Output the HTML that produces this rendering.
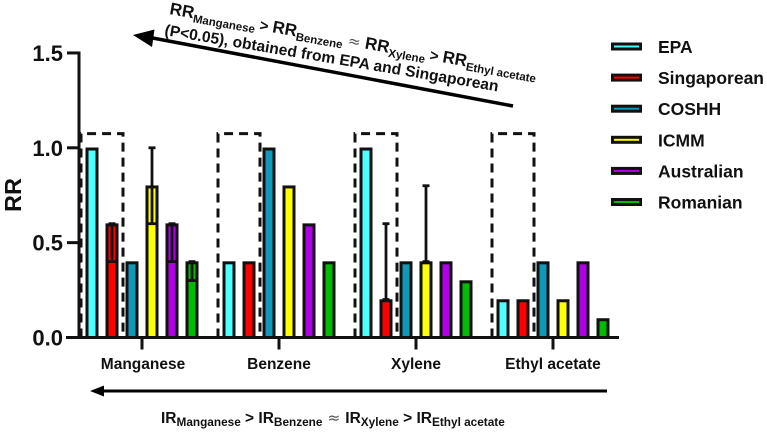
<!DOCTYPE html>
<html lang="en">
<head>
<meta charset="utf-8">
<title>RR by chemical and risk assessment model</title>
<style>
html,body{margin:0;padding:0;background:#fff;width:767px;height:433px;overflow:hidden}
svg{display:block;font-family:"Liberation Sans",sans-serif;font-weight:bold;fill:#111}
.sub{font-size:11.500px}
.subir{font-size:11.800px}
.approx{font-weight:normal;font-family:"DejaVu Sans",sans-serif;fill:#555}
</style>
</head>
<body>
<svg id="chart" width="767" height="433" viewBox="0 0 767 433" xmlns="http://www.w3.org/2000/svg">
  <g id="boxes"></g>
  <g id="bars"></g>
  <g id="axes"></g>
  <g id="legend"></g>

  <text transform="translate(21,195) rotate(-90)" text-anchor="middle" font-size="23.500">RR</text>

  <g>
    <line x1="513" y1="106" x2="150" y2="37.500" stroke="#000" stroke-width="3.500"/>
    <polygon points="133,35 154.500,29.500 152,47" fill="#000"/>
  </g>
  <text transform="translate(169,14) rotate(10)" font-size="17">RR<tspan class="sub" dy="4">Manganese</tspan><tspan dy="-4" font-size="15"> &gt; </tspan><tspan>RR</tspan><tspan class="sub" dy="4">Benzene</tspan><tspan dy="-4" class="approx" font-size="15"> ≈ </tspan><tspan>RR</tspan><tspan class="sub" dy="4">Xylene</tspan><tspan dy="-4" font-size="15"> &gt; </tspan><tspan>RR</tspan><tspan class="sub" dy="4">Ethyl acetate</tspan></text>
  <text transform="translate(164,35) rotate(9.600)" font-size="15.600">(P&lt;0.05), obtained from EPA and Singaporean</text>

  <g>
    <line x1="607" y1="391" x2="100" y2="391" stroke="#000" stroke-width="3"/>
    <polygon points="90,391 104,385.500 104,396.500" fill="#000"/>
  </g>
  <text x="161" y="423" font-size="15.500">IR<tspan class="subir" dy="3">Manganese</tspan><tspan dy="-3"> &gt; IR</tspan><tspan class="subir" dy="3">Benzene</tspan><tspan dy="-3" class="approx"> ≈ </tspan><tspan>IR</tspan><tspan class="subir" dy="3">Xylene</tspan><tspan dy="-3"> &gt; IR</tspan><tspan class="subir" dy="3">Ethyl acetate</tspan></text>
</svg>
<script>
const categories = ['Manganese', 'Benzene', 'Xylene', 'Ethyl acetate'];
const seriesNames = ['EPA', 'Singaporean', 'COSHH', 'ICMM', 'Australian', 'Romanian'];
const seriesColors = ['#4dffff', '#ff0000', '#1198b8', '#ffff00', '#b000e6', '#00bb00'];
const valuesEPA = [1.0, 0.4, 1.0, 0.2];
const valuesSingaporean = [0.6, 0.4, 0.2, 0.2];
const valuesCOSHH = [0.4, 1.0, 0.4, 0.4];
const valuesICMM = [0.8, 0.8, 0.4, 0.2];
const valuesAustralian = [0.6, 0.6, 0.4, 0.4];
const valuesRomanian = [0.4, 0.4, 0.3, 0.1];
const seriesValues = [valuesEPA, valuesSingaporean, valuesCOSHH, valuesICMM, valuesAustralian, valuesRomanian];
const errorLowSingaporean = [0.4, 0.4, 0.2, 0.2];
const errorHighSingaporean = [0.6, 0.4, 0.6, 0.2];
const errorLowICMM = [0.6, 0.8, 0.4, 0.2];
const errorHighICMM = [1.0, 0.8, 0.8, 0.2];
const errorLowAustralian = [0.4, 0.6, 0.4, 0.4];
const errorHighAustralian = [0.6, 0.6, 0.4, 0.4];
const errorLowRomanian = [0.3, 0.4, 0.3, 0.1];
const errorHighRomanian = [0.4, 0.4, 0.3, 0.1];
const errorLow = [null, errorLowSingaporean, null, errorLowICMM, errorLowAustralian, errorLowRomanian];
const errorHigh = [null, errorHighSingaporean, null, errorHighICMM, errorHighAustralian, errorHighRomanian];
const yTickValues = [0, 0.5, 1.0, 1.5];
const yTickLabels = ['0.0', '0.5', '1.0', '1.5'];
const boxTop = 1.075;

const NS = 'http://www.w3.org/2000/svg';
const yScale = v => 337.5 - v * 189.7;
const groupCenter = i => 142 + i * 137;
const barCenter = (i, s) => groupCenter(i) + (s - 2.5) * 20;
const slug = t => t.toLowerCase().replace(/\s+/g, '-');

function make(parent, tag, attrs, text) {
  const el = document.createElementNS(NS, tag);
  for (const k in attrs) el.setAttribute(k, attrs[k]);
  if (text !== undefined) el.textContent = text;
  parent.appendChild(el);
  return el;
}

const boxes = document.getElementById('boxes');
categories.forEach((c, i) => {
  const x0 = barCenter(i, 0) - 11;
  const x1 = barCenter(i, 1) + 11;
  const box = make(boxes, 'path', {
    d: `M${x0} ${yScale(0)}V${yScale(boxTop)}H${x1}V${yScale(0)}`,
    fill: 'none', stroke: '#111', 'stroke-width': 3, 'stroke-dasharray': '9 6'
  });
  
  
});

const bars = document.getElementById('bars');
seriesValues.forEach((vals, s) => {
  vals.forEach((v, i) => {
    const cx = barCenter(i, s);
    const rect = make(bars, 'rect', {
      x: cx - 5, y: yScale(v) + 1.2, width: 10, height: yScale(0) - yScale(v) - 1.2,
      fill: seriesColors[s], stroke: '#111', 'stroke-width': 3
    });
    
    
    if (errorLow[s] && errorHigh[s][i] !== errorLow[s][i]) {
      const yLo = yScale(errorLow[s][i]);
      const yHi = yScale(errorHigh[s][i]);
      const g = make(bars, 'g', {stroke: '#111', 'stroke-width': 2.800});
      
      
      make(g, 'line', {x1: cx, x2: cx, y1: yLo, y2: yHi});
      make(g, 'line', {x1: cx - 3.500, x2: cx + 3.500, y1: yLo, y2: yLo});
      make(g, 'line', {x1: cx - 3.500, x2: cx + 3.500, y1: yHi, y2: yHi});
    }
  });
});

const axes = document.getElementById('axes');
const yAxis = make(axes, 'line', {x1: 79, x2: 79, y1: yScale(1.5) - 1.500, y2: yScale(0) + 1.500, stroke: '#111', 'stroke-width': 3});


const xAxis = make(axes, 'line', {x1: 66, x2: 619, y1: yScale(0), y2: yScale(0), stroke: '#111', 'stroke-width': 3});


yTickValues.forEach((v, i) => {
  const tick = make(axes, 'line', {x1: 67, x2: 79, y1: yScale(v), y2: yScale(v), stroke: '#111', 'stroke-width': 3});
  
  
  const label = make(axes, 'text', {x: 63, y: yScale(v) + 8, 'text-anchor': 'end', 'font-size': 22}, yTickLabels[i]);
  
  
});
categories.forEach((c, i) => {
  const cx = groupCenter(i);
  const tick = make(axes, 'line', {x1: cx, x2: cx, y1: yScale(0), y2: yScale(0) + 12, stroke: '#111', 'stroke-width': 3});
  
  
  const label = make(axes, 'text', {x: cx + (i === 0 ? 1 : 0), y: 369, 'text-anchor': 'middle', 'font-size': 15.500}, c);
  
  
});

const legend = document.getElementById('legend');
const legendRow = s => 46.500 + s * 31.100;
seriesNames.forEach((n, s) => {
  const y = legendRow(s);
  const g = make(legend, 'g', {});
  
  
  const sw = make(g, 'rect', {x: 612.5, y: y - 2.500, width: 28, height: 5, fill: seriesColors[s], stroke: '#111', 'stroke-width': 3});
  
  
  const t = make(g, 'text', {x: 658, y: y + 6.500, 'font-size': 17.500}, n);
  
  
});
</script>
</body>
</html>
